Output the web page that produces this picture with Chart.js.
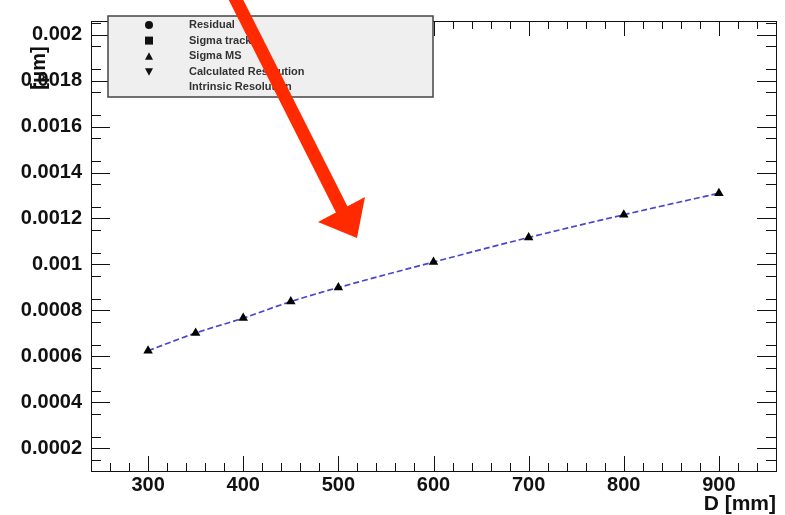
<!DOCTYPE html>
<html>
<head>
<meta charset="utf-8">
<script src="https://cdn.jsdelivr.net/npm/chart.js@4/dist/chart.umd.min.js"></script>
<style>
    body { margin: 0; background: #fff; }
    #wrap { position: relative; width: 785px; height: 515px; }
</style>
</head>
<body>
<div id="wrap"><canvas id="resChart"></canvas></div>
<script>
// Datos
const distances = [300, 350, 400, 450, 500, 600, 700, 800, 900];
const sigmaMS = [0.000624, 0.000701, 0.000766, 0.000838, 0.000899, 0.001010, 0.001117, 0.001216, 0.001310];
const xTicks = [300, 400, 500, 600, 700, 800, 900];
const yTicks = [0.0002, 0.0004, 0.0006, 0.0008, 0.001, 0.0012, 0.0014, 0.0016, 0.0018, 0.002];
const yTickLabels = ['0.0002', '0.0004', '0.0006', '0.0008', '0.001', '0.0012', '0.0014', '0.0016', '0.0018', '0.002'];
const legendLabels = ['Residual', 'Sigma track', 'Sigma MS', 'Calculated Resolution', 'Intrinsic Resolution'];
const legendMarkers = ['circle', 'rect', 'triangle', 'invtriangle', null];

const FONT = '"Liberation Sans", Arial, sans-serif';

// Marcas internas tipo ROOT, marco, leyenda y flecha
const framePlugin = {
    id: 'frame',
    afterDraw(chart) {
        const ctx = chart.ctx;
        const a = chart.chartArea;
        const xs = chart.scales.x;
        const ys = chart.scales.y;
        ctx.save();
        ctx.strokeStyle = '#111';
        ctx.lineWidth = 1;
        ctx.strokeRect(a.left + 0.5, a.top + 0.5, a.right - a.left, a.bottom - a.top);

        ctx.beginPath();
        for (let v = xs.min + 20; v < xs.max; v += 20) {
            const px = Math.round(xs.getPixelForValue(v)) + 0.5;
            const len = xTicks.includes(v) ? 15 : 8;
            ctx.moveTo(px, a.bottom); ctx.lineTo(px, a.bottom - len);
            ctx.moveTo(px, a.top); ctx.lineTo(px, a.top + len);
        }
        yTicks.forEach(v => {
            const py = Math.round(ys.getPixelForValue(v)) + 0.5;
            ctx.moveTo(a.left, py); ctx.lineTo(a.left + 19, py);
            ctx.moveTo(a.right, py); ctx.lineTo(a.right - 19, py);
        });
        for (let k = 0; k < 20; k++) {
            const v = 0.00015 + k * 0.0001;
            if (v > ys.max) break;
            const py = Math.round(ys.getPixelForValue(v)) + 0.5;
            ctx.moveTo(a.left, py); ctx.lineTo(a.left + 10, py);
            ctx.moveTo(a.right, py); ctx.lineTo(a.right - 10, py);
        }
        ctx.stroke();

        // Leyenda
        ctx.fillStyle = '#efefef';
        ctx.fillRect(108, 16, 325, 81);
        ctx.strokeStyle = '#444';
        ctx.lineWidth = 1.5;
        ctx.strokeRect(108, 16, 325, 81);
        ctx.font = 'bold 11px ' + FONT;
        ctx.textBaseline = 'middle';
        legendLabels.forEach((txt, i) => {
            const cy = 25 + i * 15.6;
            const cx = 149;
            ctx.fillStyle = '#111';
            const m = legendMarkers[i];
            ctx.beginPath();
            if (m === 'circle') {
                ctx.arc(cx, cy, 4, 0, Math.PI * 2);
            } else if (m === 'rect') {
                ctx.rect(cx - 4, cy - 4, 8, 8);
            } else if (m === 'triangle') {
                ctx.moveTo(cx, cy - 4); ctx.lineTo(cx + 4, cy + 3.5); ctx.lineTo(cx - 4, cy + 3.5);
            } else if (m === 'invtriangle') {
                ctx.moveTo(cx, cy + 4); ctx.lineTo(cx + 4, cy - 3.5); ctx.lineTo(cx - 4, cy - 3.5);
            }
            ctx.fill();
            ctx.fillStyle = '#333';
            ctx.fillText(txt, 189, cy);
        });

        // Flecha roja
        ctx.strokeStyle = '#ff2a00';
        ctx.fillStyle = '#ff2a00';
        ctx.lineWidth = 13;
        ctx.beginPath();
        ctx.moveTo(231, -10);
        ctx.lineTo(343, 212);
        ctx.stroke();
        ctx.beginPath();
        ctx.moveTo(318, 222);
        ctx.lineTo(365, 197);
        ctx.lineTo(357, 238);
        ctx.closePath();
        ctx.fill();

        // Titulos de ejes
        ctx.fillStyle = '#111';
        ctx.font = 'bold 21px ' + FONT;
        ctx.textAlign = 'right';
        ctx.textBaseline = 'alphabetic';
        ctx.fillText('D [mm]', 776, 510);
        ctx.save();
        ctx.translate(45, 68);
        ctx.rotate(-Math.PI / 2);
        ctx.textAlign = 'center';
        ctx.font = 'bold 20px ' + FONT;
        ctx.fillText('[\u03bcm]', 0, 0);
        ctx.restore();
        ctx.restore();
    }
};

function initializeChart() {
    const ctx = document.getElementById('resChart').getContext('2d');
    return new Chart(ctx, {
        type: 'line',
        data: {
            datasets: [{
                label: 'Sigma MS',
                data: distances.map((d, i) => ({ x: d, y: sigmaMS[i] })),
                borderColor: '#4646d2',
                borderWidth: 1.7,
                borderDash: [6, 3],
                tension: 0.4,
                cubicInterpolationMode: 'monotone',
                pointStyle: 'triangle',
                pointRadius: 5.5,
                pointBackgroundColor: '#000',
                pointBorderColor: '#000',
                pointBorderWidth: 0,
                fill: false
            }]
        },
        options: {
            responsive: true,
            maintainAspectRatio: false,
            animation: false,
            layout: { padding: { left: 0, top: 11, right: 9, bottom: 0 } },
            plugins: {
                legend: { display: false },
                tooltip: { enabled: false }
            },
            scales: {
                x: {
                    type: 'linear',
                    min: 240,
                    max: 960,
                    afterBuildTicks: s => { s.ticks = xTicks.map(v => ({ value: v })); },
                    afterFit: s => { s.height = 44; },
                    grid: { display: false, drawTicks: false },
                    border: { display: true, color: '#111' },
                    ticks: {
                        padding: 2,
                        maxRotation: 0,
                        color: '#111',
                        font: { family: FONT, size: 20, weight: 'bold' }
                    }
                },
                y: {
                    min: 0.0001,
                    max: 0.00206,
                    afterBuildTicks: s => { s.ticks = yTicks.map(v => ({ value: v })); },
                    afterFit: s => { s.width = 91; },
                    grid: { display: false, drawTicks: false },
                    border: { display: true, color: '#111' },
                    ticks: {
                        padding: 9,
                        color: '#111',
                        font: { family: FONT, size: 20, weight: 'bold' },
                        callback: (value, index) => yTickLabels[index]
                    }
                }
            }
        },
        plugins: [framePlugin]
    });
}

initializeChart();
</script>
</body>
</html>
